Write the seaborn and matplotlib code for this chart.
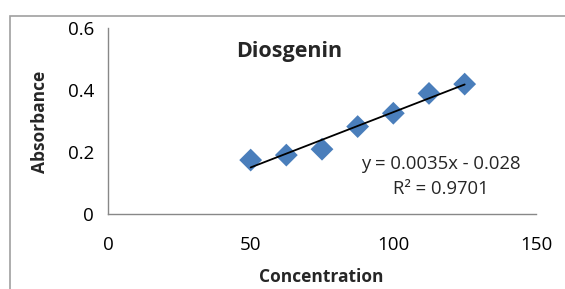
import matplotlib
matplotlib.use("Agg")
import matplotlib.pyplot as plt
import seaborn as sns
import numpy as np
import pandas as pd
from matplotlib.patches import Rectangle

concentration = [50, 62.5, 75, 87.5, 100, 112.5, 125]
absorbance = [0.174, 0.190, 0.209, 0.282, 0.325, 0.389, 0.419]
x_ticks = [0, 50, 100, 150]
y_ticks = [0, 0.2, 0.4, 0.6]
y_ticklabels = ["0", "0.2", "0.4", "0.6"]
title = "Diosgenin"
equation = "y = 0.0035x - 0.028"
r2_text = "R² = 0.9701"

sns.set_style("white")
plt.rcParams['font.family'] = ['Open Sans', 'DejaVu Sans']

df = pd.DataFrame({"Concentration": concentration, "Absorbance": absorbance})

fig = plt.figure(figsize=(5.65, 2.89), dpi=100)
ax = fig.add_axes([108/565, 1-214/289, 428/565, 186/289])

# outer chart border
fig.add_artist(Rectangle((10/565, -0.2), 1.2, 1 - 16/289 + 0.2, transform=fig.transFigure,
                         fill=False, edgecolor="#a0a0a0", linewidth=1.2))

sns.regplot(data=df, x="Concentration", y="Absorbance", ax=ax, ci=None,
            marker="D",
            scatter_kws=dict(s=135, color="#4a7ebb", edgecolors="none", zorder=2, alpha=1),
            line_kws=dict(color="black", linewidth=1.3, zorder=3))

ax.set_xlim(0, 150)
ax.set_ylim(0, 0.6)
ax.set_xticks(x_ticks)
ax.set_xticklabels([str(t) for t in x_ticks])
ax.set_yticks(y_ticks)
ax.set_yticklabels(y_ticklabels)
for s in ["top", "right"]:
    ax.spines[s].set_visible(False)
for s in ["left", "bottom"]:
    ax.spines[s].set_color("#888888")
    ax.spines[s].set_linewidth(1.0)
ax.tick_params(axis="both", direction="out", length=5, width=1, color="#888888",
               labelsize=13.5, labelcolor="black", pad=5)
ax.tick_params(axis="x", pad=11)

ax.set_xlabel("Concentration", fontsize=12.5, fontweight="bold", va="center")
ax.set_ylabel("Absorbance", fontsize=12.5, fontweight="bold", va="center")
ax.xaxis.set_label_coords((321-108)/428, (214-277)/186)
ax.yaxis.set_label_coords((40-108)/428, (214-121.5)/186)

fig.text(289/565, 1-52/289, title, fontsize=15.5, fontweight="bold", ha="center", va="center")
fig.text(441/565, 1-164/289, equation, fontsize=13.3, ha="center", va="center")
fig.text(441/565, 1-189/289, r2_text, fontsize=13.3, ha="center", va="center")

fig.savefig("out.png", dpi=100)
